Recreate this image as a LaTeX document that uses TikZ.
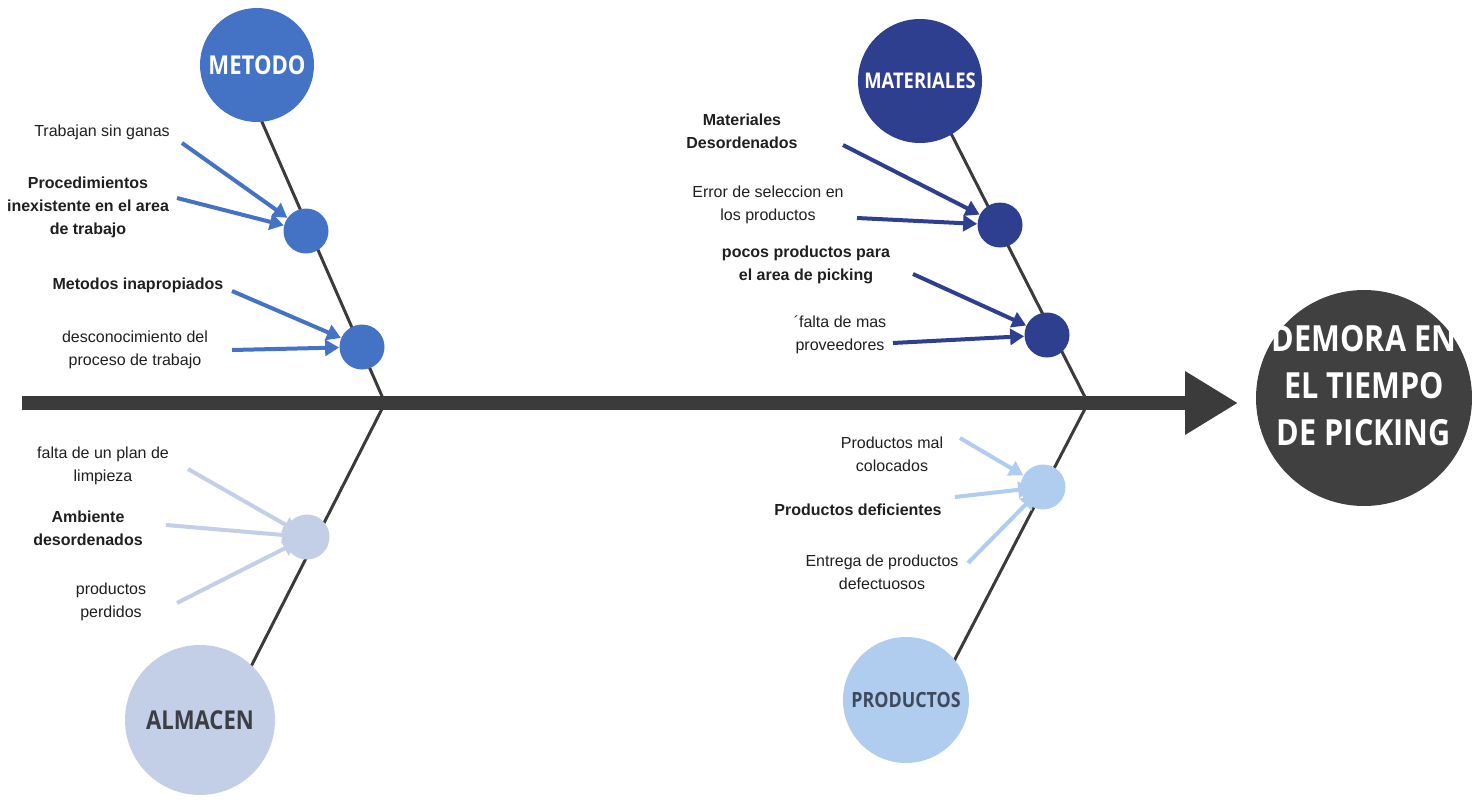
\documentclass[tikz,border=0pt]{standalone}
\usepackage{fontspec}
\setsansfont{Liberation Sans}
\newfontfamily\headfont[FakeStretch=0.85]{Open Sans}
\usepackage{tikz}
\usetikzlibrary{arrows.meta, positioning}
\definecolor{metodo}{HTML}{4472C4}
\definecolor{materiales}{HTML}{2F3F8F}
\definecolor{almacen}{HTML}{C2CFE6}
\definecolor{productos}{HTML}{B0CCEF}
\definecolor{efecto}{HTML}{404040}
\definecolor{spine}{HTML}{3B3B3B}
\definecolor{darktext}{HTML}{1F1F1F}
\definecolor{almtext}{HTML}{3D3D45}
\definecolor{prodtext}{HTML}{3E4A5C}

\begin{document}
\begin{tikzpicture}[x=0.5pt, y=-0.5pt, every node/.style={font=\sffamily},
  headnode/.style={circle, inner sep=0pt, text=white},
  jointnode/.style={circle, inner sep=0pt, minimum size=22.5pt},
  cause/.style={align=center, text=darktext, font=\sffamily\fontsize{8}{11.5}\selectfont},
  boldcause/.style={cause, font=\sffamily\bfseries\fontsize{8}{11.5}\selectfont},
  feed/.style={-{Triangle[length=7pt, width=8pt]}, line width=2pt},
  sunk/.style={shorten >=-6pt},
  bone/.style={draw=spine, line width=1.5pt}]

  \useasboundingbox (0,0) rectangle (1472,803);

  \coordinate (tail) at (22,403);
  \coordinate (tip) at (1238,403);
  \coordinate (jleft) at (385,403);
  \coordinate (jright) at (1088,403);
  \coordinate (metend) at (248,90);
  \coordinate (matend) at (934,100);
  \coordinate (almend) at (234,700);
  \coordinate (proend) at (939,690);

  \draw[bone] (jleft) -- (metend);
  \draw[bone] (jright) -- (matend);
  \draw[bone] (jleft) -- (almend);
  \draw[bone] (jright) -- (proend);
  \draw[spine, line width=7pt, -{Triangle[length=26.5pt, width=30pt]}] (tail) -- (tip);

  \node[headnode, fill=metodo, minimum size=57pt, font=\headfont\bfseries\fontsize{13}{15}\selectfont] (met) at (257,65) {METODO};
  \node[headnode, fill=materiales, minimum size=62pt, font=\headfont\bfseries\fontsize{10.8}{13}\selectfont] (mat) at (920,81) {MATERIALES};
  \node[headnode, fill=almacen, minimum size=75pt, text=almtext, font=\headfont\bfseries\fontsize{13}{15}\selectfont] (alm) at (200,720) {ALMACEN};
  \node[headnode, fill=productos, minimum size=63pt, text=prodtext, font=\headfont\bfseries\fontsize{10.5}{13}\selectfont] (pro) at (906,700) {PRODUCTOS};
  \node[circle, fill=efecto, minimum size=108pt] (eff) at (1364,398) {};
  \node[align=center, text=white, font=\headfont\bfseries\fontsize{18}{23.5}\selectfont] (efftxt) at (1364,386) {DEMORA EN\\EL TIEMPO\\DE PICKING};

  \node[jointnode, fill=metodo] (mj1) at (306,231) {};
  \node[jointnode, fill=metodo] (mj2) at (362,347) {};
  \node[jointnode, fill=materiales] (tj1) at (1000,225) {};
  \node[jointnode, fill=materiales] (tj2) at (1047,335) {};
  \node[jointnode, fill=almacen] (aj) at (307,537) {};
  \node[jointnode, fill=productos] (pj) at (1043,487) {};

  \node[cause] (mc1) at (102,132) {Trabajan sin ganas};
  \node[boldcause] (mc2) at (88,207) {Procedimientos\\inexistente en el area\\de trabajo};
  \node[boldcause] (mc3) at (138,285) {Metodos inapropiados};
  \node[cause] (mc4) at (135,350) {desconocimiento del\\proceso de trabajo};
  \coordinate (m1) at (182,143);
  \coordinate (m2) at (177,198);
  \coordinate (m3) at (232,291);
  \coordinate (m4) at (232,350);
  \draw[feed, metodo] (m1) -- (mj1);
  \draw[feed, metodo] (m2) -- (mj1);
  \draw[feed, metodo] (m3) -- (mj2);
  \draw[feed, metodo] (m4) -- (mj2);

  \node[boldcause] (tc1) at (742,131) {Materiales\\Desordenados};
  \node[cause] (tc2) at (768,205) {Error de seleccion en\\los productos};
  \node[boldcause] (tc3) at (806,265) {pocos productos para\\el area de picking};
  \node[cause] (tc4) at (840,335) {´falta de mas\\proveedores};
  \coordinate (t1) at (843,145);
  \coordinate (t2) at (857,218);
  \coordinate (t3) at (913,274);
  \coordinate (t4) at (893,343);
  \draw[feed, materiales] (t1) -- (tj1);
  \draw[feed, materiales] (t2) -- (tj1);
  \draw[feed, materiales] (t3) -- (tj2);
  \draw[feed, materiales] (t4) -- (tj2);

  \node[cause] (ac1) at (103,466) {falta de un plan de\\limpieza};
  \node[boldcause] (ac2) at (88,528) {Ambiente\\desordenados};
  \node[cause] (ac3) at (111,602) {productos\\perdidos};
  \coordinate (a1) at (188,469);
  \coordinate (a2) at (166,525);
  \coordinate (a3) at (177,603);
  \draw[feed, sunk, almacen] (a1) -- (aj);
  \draw[feed, sunk, almacen] (a2) -- (aj);
  \draw[feed, sunk, almacen] (a3) -- (aj);

  \node[cause] (pc1) at (892,454) {Productos mal\\colocados};
  \node[boldcause] (pc2) at (858,510) {Productos deficientes};
  \node[cause] (pc3) at (882,572) {Entrega de productos\\defectuosos};
  \coordinate (p1) at (960,438);
  \coordinate (p2) at (955,497);
  \coordinate (p3) at (968,563);
  \draw[feed, productos] (p1) -- (pj);
  \draw[feed, sunk, productos] (p2) -- (pj);
  \draw[feed, sunk, productos] (p3) -- (pj);
\end{tikzpicture}
\end{document}
